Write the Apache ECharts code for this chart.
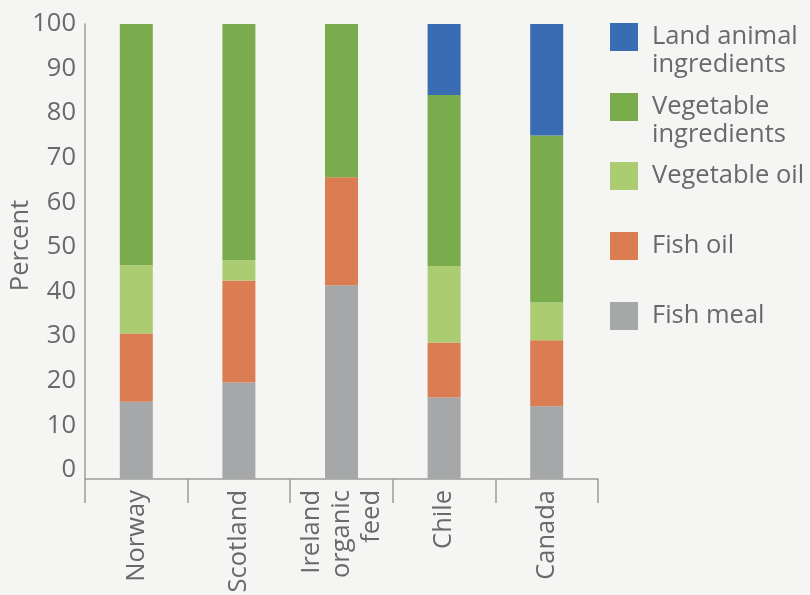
<!DOCTYPE html>
<html>
<head>
<meta charset="utf-8">
<script src="https://cdn.jsdelivr.net/npm/echarts@6/dist/echarts.min.js"></script>
<style>
  html, body { margin: 0; padding: 0; background: #f5f5f3; }
  #chart { width: 810px; height: 595px; }
</style>
</head>
<body>
<div id="chart"></div>
<script>
// Feed composition by producing region (percent of feed)
const categories = ['Norway', 'Scotland', 'Ireland\norganic\nfeed', 'Chile', 'Canada'];

const fishMeal      = [17.0, 21.2, 42.6, 17.9, 16.0];
const fishOil       = [15.0, 22.4, 23.7, 12.1, 14.5];
const vegetableOil  = [15.0,  4.5,  0.0, 16.8,  8.3];
const vegetableIngr = [53.0, 51.9, 33.7, 37.6, 36.7];
const landAnimal    = [ 0.0,  0.0,  0.0, 15.6, 24.5];

const yTicks = [0, 10, 20, 30, 40, 50, 60, 70, 80, 90, 100];

// legend text; a leading blank line keeps the first line level with the swatch
const legendNames = {
  'Land animal ingredients': '\nLand animal\ningredients',
  'Vegetable ingredients': '\nVegetable\ningredients',
  'Vegetable oil': 'Vegetable oil',
  'Fish oil': 'Fish oil',
  'Fish meal': 'Fish meal'
};

const TEXT = '#68696b';
const FONT = 'Open Sans';
const FS = 25.5;
const colors = {
  land: '#3a6cb3',
  vegIngr: '#7aab4c',
  vegOil: '#abcc71',
  fishOil: '#db7d53',
  fishMeal: '#a6a7a9'
};

// tick labels sit slightly higher toward the bottom of the axis
const rich = {};
yTicks.forEach(v => {
  const lift = 9 * (1 - v / 100);
  rich['t' + v] = {
    fontFamily: FONT, fontSize: FS, color: TEXT,
    padding: [0, 0, Math.round(lift * 2), 0]
  };
});

function legendFor(name, top) {
  return {
    data: [name],
    orient: 'vertical',
    left: 610,
    top: top,
    padding: 0,
    icon: 'rect',
    itemWidth: 28,
    itemHeight: 28,
    selectedMode: false,
    formatter: n => legendNames[n],
    textStyle: {
      fontFamily: FONT, fontSize: FS, color: TEXT, lineHeight: 28,
      padding: [0, 0, 0, 9]
    }
  };
}

function barSeries(name, data, color) {
  return {
    name: name,
    type: 'bar',
    stack: 'feed',
    barWidth: 33,
    data: data,
    itemStyle: { color: color },
    emphasis: { disabled: true }
  };
}

const chart = echarts.init(document.getElementById('chart'));
chart.setOption({
  backgroundColor: '#f5f5f3',
  animation: false,
  grid: { left: 85, right: 212, top: 24, bottom: 116, containLabel: false, outerBoundsMode: 'none' },
  legend: [
    legendFor('Land animal ingredients', -5),
    legendFor('Vegetable ingredients', 65),
    legendFor('Vegetable oil', 162),
    legendFor('Fish oil', 232),
    legendFor('Fish meal', 302)
  ],
  xAxis: {
    type: 'category',
    data: categories,
    axisLine: { show: true, lineStyle: { color: '#9c9c9c', width: 1.5 } },
    axisTick: { show: true, length: 24, interval: 0, alignWithLabel: false,
                lineStyle: { color: '#9c9c9c', width: 1.5 } },
    axisLabel: {
      interval: 0, rotate: 90, margin: 11,
      fontFamily: FONT, fontSize: FS, color: TEXT, lineHeight: 30
    }
  },
  yAxis: {
    type: 'value',
    min: 0, max: 100, interval: 10,
    name: 'Percent',
    nameLocation: 'middle',
    nameGap: 51,
    nameMoveOverlap: false,
    nameTextStyle: { fontFamily: FONT, fontSize: FS, color: TEXT, padding: [0, 0, 0, 12] },
    axisLine: { show: true, lineStyle: { color: '#9c9c9c', width: 1.5 } },
    axisTick: { show: false },
    splitLine: { show: false },
    axisLabel: {
      margin: 9,
      formatter: v => '{t' + v + '|' + v + '}',
      rich: rich
    }
  },
  series: [
    barSeries('Fish meal', fishMeal, colors.fishMeal),
    barSeries('Fish oil', fishOil, colors.fishOil),
    barSeries('Vegetable oil', vegetableOil, colors.vegOil),
    barSeries('Vegetable ingredients', vegetableIngr, colors.vegIngr),
    barSeries('Land animal ingredients', landAnimal, colors.land)
  ]
});
</script>
</body>
</html>
